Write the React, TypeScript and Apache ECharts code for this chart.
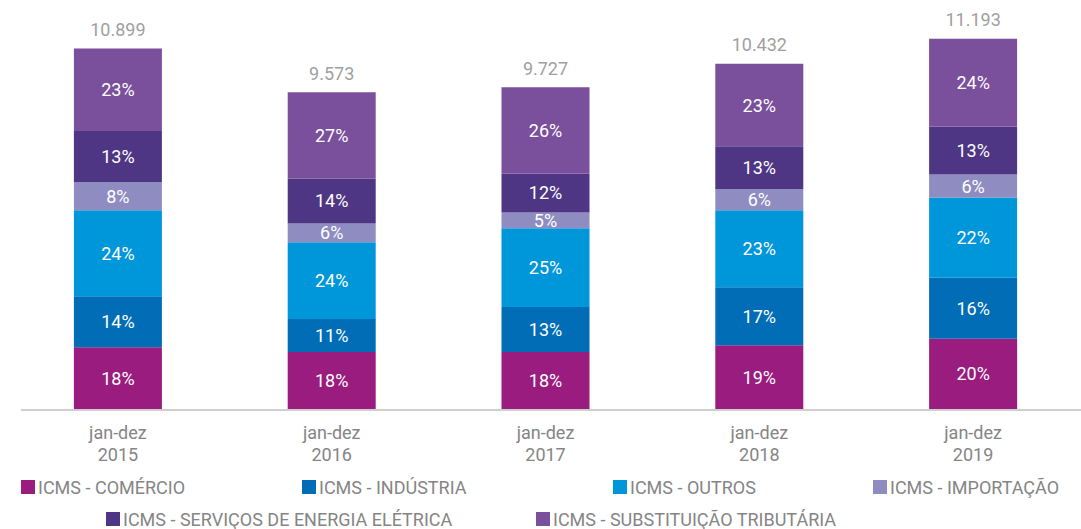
import React, { useEffect, useRef } from "react";
import * as echarts from "echarts";

const categories = ["jan-dez\n2015", "jan-dez\n2016", "jan-dez\n2017", "jan-dez\n2018", "jan-dez\n2019"];
const seriesNames = [
  "ICMS - COMÉRCIO",
  "ICMS - INDÚSTRIA",
  "ICMS - OUTROS",
  "ICMS - IMPORTAÇÃO",
  "ICMS - SERVIÇOS DE ENERGIA ELÉTRICA",
  "ICMS - SUBSTITUIÇÃO TRIBUTÁRIA",
];
const totals = [10899, 9573, 9727, 10432, 11193];

const comercio = [1870, 1720, 1720, 1930, 2120];
const industria = [1540, 1000, 1360, 1750, 1850];
const outros = [2600, 2320, 2380, 2330, 2420];
const importacao = [850, 570, 480, 630, 700];
const energia = [1540, 1360, 1180, 1300, 1450];
const substituicao = [2499, 2603, 2607, 2492, 2653];

const comercioPct = [18, 18, 18, 19, 20];
const industriaPct = [14, 11, 13, 17, 16];
const outrosPct = [24, 24, 25, 23, 22];
const importacaoPct = [8, 6, 5, 6, 6];
const energiaPct = [13, 14, 12, 13, 13];
const substituicaoPct = [23, 27, 26, 23, 24];

const colors = ["#991C7E", "#006DB6", "#0096DA", "#8E8CC1", "#4E3684", "#7A4F9B"];

const seriesValues = [comercio, industria, outros, importacao, energia, substituicao];
const seriesPcts = [comercioPct, industriaPct, outrosPct, importacaoPct, energiaPct, substituicaoPct];

const legendPos = [
  { left: 21, top: 478 },
  { left: 302, top: 478 },
  { left: 613, top: 478 },
  { left: 873, top: 478 },
  { left: 106, top: 510 },
  { left: 536, top: 510 },
];

const FONT = "Roboto";
const GREY = "#858585";
const FS = 18;

function fmtThousands(v: number): string {
  return String(v).replace(/\B(?=(\d{3})+(?!\d))/g, ".");
}

export default function App() {
  const ref = useRef<HTMLDivElement>(null);
  useEffect(() => {
    document.body.style.margin = "0";
    if (!ref.current) return;
    const chart = echarts.init(ref.current, null, { renderer: "svg" });
    const barSeries = seriesNames.map((name, i) => ({
      name,
      type: "bar",
      stack: "total",
      barWidth: 88,
      data: seriesValues[i],
      itemStyle: { color: colors[i] },
      label: {
        show: true,
        position: "inside",
        color: "#ffffff",
        fontFamily: FONT,
        fontSize: FS,
        formatter: (p: any) => seriesPcts[i][p.dataIndex] + "%",
      },
    }));
    chart.setOption({
      animation: false,
      grid: { left: 11, right: 1, top: 12, bottom: 120 },
      xAxis: {
        type: "category",
        data: categories,
        axisLine: { show: false },
        axisTick: { show: false },
        axisLabel: {
          color: GREY,
          fontFamily: FONT,
          fontSize: FS,
          lineHeight: 22,
          margin: 12,
        },
      },
      yAxis: {
        type: "value",
        min: 0,
        max: 12000,
        show: false,
        splitLine: { show: false },
      },
      legend: seriesNames.map((name, i) => ({
        data: [name],
        left: legendPos[i].left,
        top: legendPos[i].top,
        padding: 0,
        itemWidth: 14,
        itemHeight: 14,
        itemGap: 0,
        icon: "rect",
        textStyle: { color: GREY, fontFamily: FONT, fontSize: FS, lineHeight: 18, padding: [0, 0, 0, -2] },
        selectedMode: false,
      })),
      graphic: [
        {
          type: "line",
          shape: { x1: 21, y1: 410, x2: 1081, y2: 410 },
          style: { stroke: "#CFCFCF", lineWidth: 2 },
          z: 10,
        },
      ],
      series: [
        ...barSeries,
        {
          name: "total",
          type: "scatter",
          data: totals,
          symbolSize: 0,
          z: 20,
          label: {
            show: true,
            position: "top",
            distance: 10,
            color: GREY,
            fontFamily: FONT,
            fontSize: FS,
            formatter: (p: any) => fmtThousands(totals[p.dataIndex]),
          },
        },
      ],
    });
    return () => chart.dispose();
  }, []);
  return <div ref={ref} style={{ width: 1081, height: 529 }} />;
}
